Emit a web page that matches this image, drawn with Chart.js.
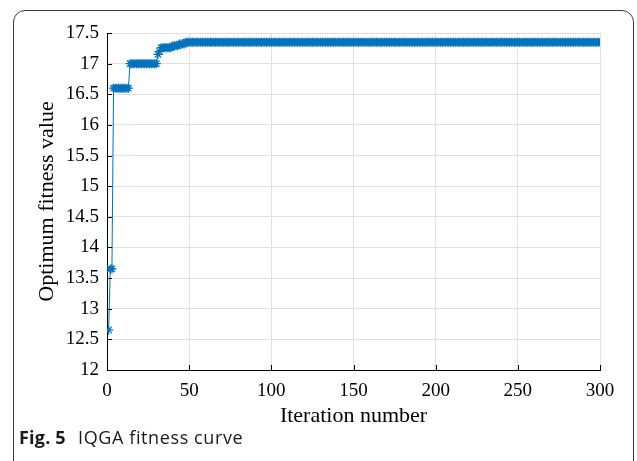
<!DOCTYPE html>
<html>
<head>
<meta charset="utf-8">
<script src="https://cdn.jsdelivr.net/npm/chart.js@4.4.1/dist/chart.umd.min.js"></script>
<style>
  html, body { margin: 0; padding: 0; background: #fff; }
  #wrap { position: relative; width: 637px; height: 461px; overflow: hidden; }
  #frame {
    position: absolute; left: 13px; top: 10px; width: 621px; height: 480px;
    border: 1.5px solid #3a3a3a; border-radius: 12px; box-sizing: border-box;
  }
  #fitnessChart { position: absolute; left: 0; top: 0; }
  #caption {
    position: absolute; left: 19px; top: 425px;
    font-family: "Open Sans", sans-serif; font-size: 18px; color: #1a1a1a;
    letter-spacing: 0.6px; white-space: nowrap;
  }
  #caption b { font-weight: 700; margin-right: 7px; letter-spacing: 0.2px; }
</style>
</head>
<body>
<div id="wrap">
  <div id="frame"></div>
  <canvas id="fitnessChart" width="637" height="461"></canvas>
  <div id="caption"><b>Fig. 5</b> IQGA fitness curve</div>
</div>
<script>
// Best fitness per iteration, read off the figure as constant runs:
// the run starting at stepStarts[i] holds stepValues[i] until the next run
const stepStarts = [1, 2, 4, 14, 31, 32, 33, 40, 44, 48];
const stepValues = [12.65, 13.65, 16.6, 17.0, 17.15, 17.2, 17.26, 17.29, 17.32, 17.35];
const lastIteration = 300;

const xTicks = [0, 50, 100, 150, 200, 250, 300];
const yTicks = [12, 12.5, 13, 13.5, 14, 14.5, 15, 15.5, 16, 16.5, 17, 17.5];

// expand runs into one point per iteration
const points = [];
for (let s = 0; s < stepStarts.length; s++) {
  const end = s + 1 < stepStarts.length ? stepStarts[s + 1] - 1 : lastIteration;
  for (let it = stepStarts[s]; it <= end; it++) {
    points.push({ x: it, y: stepValues[s] });
  }
}

const serif = "'Liberation Serif', 'Times New Roman', serif";
Chart.defaults.font.family = serif;
Chart.defaults.color = "#000";

const gridColor = "#e0e0e0";

// MATLAB style ticks pointing into the plot
const innerTicks = {
  id: "innerTicks",
  afterDatasetsDraw(chart) {
    const { ctx, chartArea, scales } = chart;
    ctx.save();
    ctx.strokeStyle = "#000";
    ctx.lineWidth = 1;
    ctx.beginPath();
    scales.x.ticks.forEach((t) => {
      const px = Math.round(scales.x.getPixelForValue(t.value)) + 0.5;
      ctx.moveTo(px, chartArea.bottom);
      ctx.lineTo(px, chartArea.bottom - 5);
    });
    scales.y.ticks.forEach((t) => {
      const py = Math.round(scales.y.getPixelForValue(t.value)) + 0.5;
      ctx.moveTo(chartArea.left, py);
      ctx.lineTo(chartArea.left + 5, py);
    });
    ctx.stroke();
    ctx.restore();
  },
};

const config = {
  type: "line",
  data: {
    datasets: [
      {
        label: "Optimum fitness value",
        data: points,
        borderColor: "#0072BD",
        borderWidth: 1,
        pointStyle: "star",
        pointRadius: 4.5,
        pointBorderColor: "#0072BD",
        pointBackgroundColor: "#0072BD",
        pointBorderWidth: 1.2,
        tension: 0,
      },
    ],
  },
  options: {
    responsive: false,
    animation: false,
    devicePixelRatio: 1,
    layout: { padding: { left: 0, top: 33, right: 37, bottom: 0 } },
    plugins: {
      legend: { display: false },
      tooltip: { enabled: false },
    },
    scales: {
      x: {
        type: "linear",
        min: xTicks[0],
        max: xTicks[xTicks.length - 1],
        afterBuildTicks: (scale) => {
          scale.ticks = xTicks.map((v) => ({ value: v }));
        },
        afterFit: (scale) => {
          scale.height = 91;
        },
        ticks: {
          font: { family: serif, size: 19 },
          color: "#000",
          padding: 10,
          maxRotation: 0,
          callback: (value) => String(value),
        },
        grid: { color: gridColor, drawTicks: false },
        border: { color: "#000", width: 1 },
        title: {
          display: true,
          text: "Iteration number",
          font: { family: serif, size: 22 },
          color: "#000",
          padding: { top: 0, bottom: 32 },
        },
      },
      y: {
        type: "linear",
        min: yTicks[0],
        max: yTicks[yTicks.length - 1],
        afterBuildTicks: (scale) => {
          scale.ticks = yTicks.map((v) => ({ value: v }));
        },
        afterFit: (scale) => {
          scale.width = 107;
        },
        ticks: {
          font: { family: serif, size: 19 },
          color: "#000",
          padding: 8,
          callback: (value) => String(value),
        },
        grid: { color: gridColor, drawTicks: false },
        border: { color: "#000", width: 1 },
        title: {
          display: true,
          text: "Optimum fitness value",
          font: { family: serif, size: 22 },
          color: "#000",
          padding: { top: 34, bottom: 0 },
        },
      },
    },
  },
  plugins: [innerTicks],
};

new Chart(document.getElementById("fitnessChart").getContext("2d"), config);
</script>
</body>
</html>
